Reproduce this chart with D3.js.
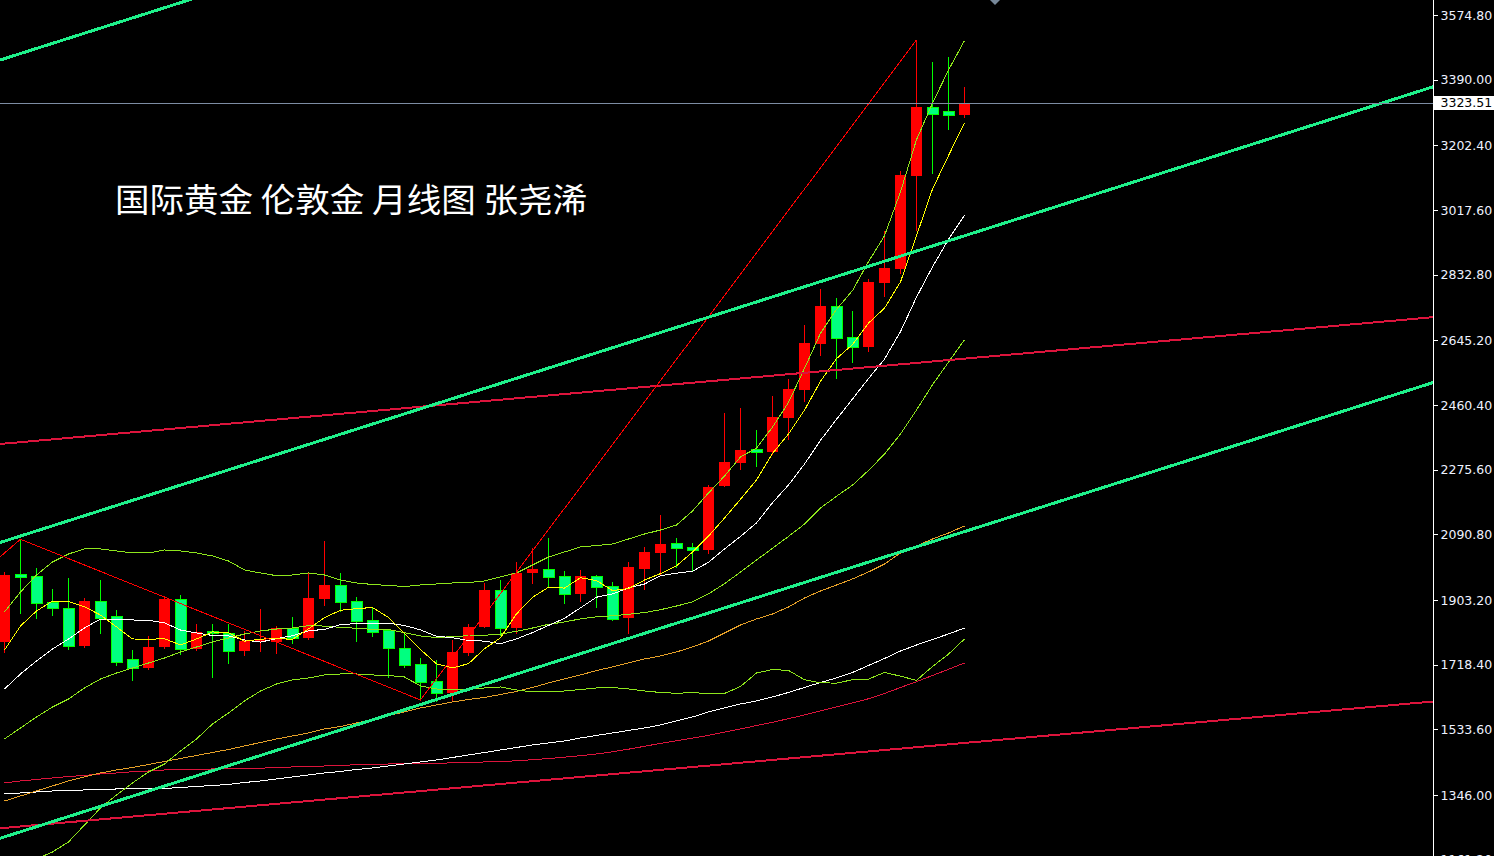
<!DOCTYPE html>
<html>
<head>
<meta charset="utf-8">
<script src="https://cdn.jsdelivr.net/npm/d3@7"></script>
<style>
  html, body { margin: 0; padding: 0; background: #000; overflow: hidden; }
  svg { display: block; }
</style>
</head>
<body>
<svg id="chart" width="1494" height="856"></svg>
<script>
// Spot gold (XAUUSD), monthly candles
const months = [
  "2020-07","2020-08","2020-09","2020-10","2020-11","2020-12",
  "2021-01","2021-02","2021-03","2021-04","2021-05","2021-06","2021-07","2021-08","2021-09","2021-10","2021-11","2021-12",
  "2022-01","2022-02","2022-03","2022-04","2022-05","2022-06","2022-07","2022-08","2022-09","2022-10","2022-11","2022-12",
  "2023-01","2023-02","2023-03","2023-04","2023-05","2023-06","2023-07","2023-08","2023-09","2023-10","2023-11","2023-12",
  "2024-01","2024-02","2024-03","2024-04","2024-05","2024-06","2024-07","2024-08","2024-09","2024-10","2024-11","2024-12",
  "2025-01","2025-02","2025-03","2025-04","2025-05","2025-06","2025-07"
];

const opens = [
  1784.1, 1976.6, 1971.7, 1898.3, 1879.5, 1771.7, 1900.3, 1857.0, 1733.8, 1708.0,
  1768.0, 1906.0, 1763.1, 1814.5, 1808.0, 1758.3, 1786.0, 1784.0, 1824.0, 1795.5,
  1906.0, 1946.0, 1900.3, 1846.1, 1817.4, 1765.2, 1719.5, 1671.7, 1638.3, 1750.9,
  1826.9, 1931.8, 1824.0, 1979.5, 1991.7, 1971.7, 1919.5, 1971.7, 1943.2, 1852.6,
  1991.7, 2038.3, 2065.2, 2053.8, 2046.1, 2230.0, 2295.4, 2333.7, 2326.8, 2424.1,
  2503.2, 2634.7, 2743.3, 2653.9, 2627.0, 2809.9, 2849.0, 3115.6, 3311.9, 3300.5,
  3288.2
];
const highs = [
  1984.1, 2076.7, 1993.8, 1933.7, 1965.2, 1908.0, 1960.4, 1874.6, 1760.3, 1800.3,
  1914.6, 1917.5, 1834.6, 1833.7, 1833.7, 1815.5, 1877.4, 1828.9, 1853.8, 1979.5,
  2071.7, 1981.2, 1912.6, 1882.4, 1819.0, 1812.6, 1738.4, 1731.7, 1788.9, 1834.6,
  1952.6, 1960.4, 2010.9, 2050.9, 2081.2, 1986.1, 1988.9, 1974.6, 1955.5, 2012.6,
  2055.2, 2146.2, 2081.2, 2067.0, 2233.0, 2436.6, 2452.7, 2389.0, 2486.7, 2533.8,
  2689.0, 2791.8, 2767.0, 2729.0, 2820.5, 2957.6, 3129.0, 3503.4, 3440.5, 3454.8,
  3369.0
];
const lows = [
  1755.5, 1865.2, 1850.9, 1860.3, 1763.1, 1769.7, 1809.7, 1717.5, 1674.6, 1706.0,
  1765.0, 1748.8, 1760.0, 1684.0, 1722.3, 1746.0, 1758.3, 1752.6, 1781.2, 1790.9,
  1888.9, 1871.7, 1786.9, 1800.4, 1682.3, 1710.9, 1617.5, 1615.5, 1615.5, 1746.0,
  1825.2, 1803.2, 1809.7, 1951.0, 1941.2, 1893.7, 1900.3, 1884.1, 1846.1, 1809.7,
  1933.8, 1974.6, 1998.4, 1986.1, 2038.3, 2228.9, 2276.6, 2286.0, 2320.3, 2363.3,
  2472.7, 2603.3, 2538.4, 2584.1, 2614.7, 2772.7, 2838.4, 2960.5, 3122.5, 3249.9,
  3283.3
];
const closes = [
  1974.7, 1969.8, 1895.6, 1881.2, 1772.6, 1900.3, 1850.9, 1727.0, 1708.0, 1769.7,
  1906.0, 1763.1, 1812.6, 1808.0, 1758.3, 1786.0, 1791.7, 1822.3, 1795.5, 1908.0,
  1946.0, 1898.3, 1844.1, 1812.6, 1765.2, 1717.5, 1669.7, 1638.3, 1755.5, 1825.2,
  1931.8, 1824.0, 1981.2, 1991.7, 1969.8, 1919.5, 1971.7, 1941.2, 1848.9, 1998.4,
  2041.2, 2063.2, 2052.6, 2046.1, 2227.0, 2298.3, 2331.7, 2326.8, 2426.7, 2505.2,
  2638.3, 2743.3, 2651.0, 2627.0, 2811.9, 2852.8, 3117.6, 3311.9, 3292.8, 3290.0,
  3323.51
];

// Moving averages and Bollinger band
const ma5 = [
  1760.4, 1828.9, 1871.8, 1900.3, 1898.8, 1883.9, 1860.1, 1826.4, 1791.8, 1791.2,
  1792.3, 1774.8, 1791.9, 1811.9, 1809.6, 1785.6, 1791.3, 1793.3, 1790.8, 1820.7,
  1852.7, 1874.0, 1878.4, 1881.8, 1853.2, 1807.5, 1761.8, 1720.7, 1709.2, 1721.2,
  1764.1, 1795.0, 1863.5, 1910.8, 1939.7, 1937.2, 1966.8, 1958.8, 1930.2, 1935.9,
  1960.3, 1978.6, 2000.9, 2040.3, 2086.0, 2137.4, 2191.1, 2246.0, 2322.1, 2377.7,
  2445.7, 2528.1, 2592.9, 2633.0, 2694.3, 2737.2, 2812.1, 2944.2, 3077.4, 3173.0,
  3267.2
];
const ma10 = [
  1648.9, 1691.8, 1728.9, 1763.2, 1791.8, 1823.2, 1848.9, 1848.9, 1846.1, 1845.0,
  1838.1, 1817.4, 1809.1, 1801.8, 1800.4, 1789.0, 1783.0, 1792.6, 1801.3, 1815.2,
  1819.2, 1832.7, 1835.8, 1836.3, 1837.0, 1830.1, 1817.9, 1799.5, 1795.5, 1787.2,
  1785.8, 1778.4, 1792.1, 1810.0, 1830.5, 1850.7, 1880.9, 1911.2, 1920.5, 1937.8,
  1948.8, 1972.7, 1979.8, 1985.3, 2011.0, 2048.9, 2084.9, 2123.4, 2181.2, 2231.9,
  2291.6, 2359.6, 2419.4, 2477.5, 2536.0, 2591.5, 2670.1, 2768.6, 2855.2, 2933.7,
  3002.2
];
const ma20 = [
  1506.1, 1537.5, 1568.9, 1597.5, 1620.3, 1651.8, 1677.5, 1694.6, 1708.9, 1723.2,
  1737.5, 1754.6, 1768.9, 1783.2, 1794.6, 1806.0, 1814.6, 1820.3, 1823.2, 1830.1,
  1828.6, 1825.1, 1822.5, 1819.1, 1818.7, 1809.5, 1800.5, 1796.0, 1798.4, 1801.2,
  1802.5, 1805.5, 1814.0, 1823.1, 1833.7, 1840.4, 1849.4, 1855.3, 1858.0, 1862.5,
  1867.3, 1875.5, 1886.0, 1897.6, 1920.7, 1949.8, 1982.9, 2017.3, 2050.9, 2084.9,
  2120.2, 2166.1, 2199.6, 2231.4, 2273.5, 2320.2, 2377.5, 2446.0, 2518.2, 2582.8,
  2646.9
];
const bbUpper = [
  1869.0, 1926.1, 1974.7, 2011.8, 2034.7, 2049.0, 2049.0, 2043.3, 2037.6, 2037.6,
  2046.1, 2043.3, 2037.6, 2029.0, 2014.7, 1989.0, 1980.4, 1972.7, 1974.7, 1980.4,
  1974.7, 1960.4, 1951.8, 1947.6, 1944.7, 1941.8, 1946.1, 1949.0, 1951.8, 1953.2,
  1957.5, 1969.0, 1980.4, 2003.3, 2026.1, 2040.4, 2054.7, 2059.0, 2063.2, 2077.5,
  2091.8, 2103.2, 2117.5, 2157.5, 2208.9, 2257.5, 2311.8, 2337.5, 2397.3, 2467.7,
  2565.2, 2665.5, 2733.6, 2787.4, 2869.9, 2944.0, 3069.5, 3218.4, 3323.2, 3417.2,
  3501.9
];
const bbLower = [
  1143.2, 1148.9, 1163.2, 1183.2, 1211.8, 1260.3, 1308.9, 1346.1, 1380.4, 1411.8,
  1434.6, 1471.8, 1506.1, 1548.9, 1580.4, 1614.7, 1643.2, 1663.2, 1674.7, 1680.4,
  1689.0, 1691.8, 1691.8, 1689.0, 1687.5, 1683.2, 1657.5, 1649.0, 1646.1, 1649.0,
  1651.8, 1654.7, 1646.1, 1640.4, 1640.4, 1643.2, 1647.5, 1651.8, 1653.2, 1649.0,
  1643.2, 1639.0, 1636.7, 1638.4, 1636.1, 1636.1, 1656.1, 1694.7, 1704.5, 1702.1,
  1675.2, 1666.7, 1665.6, 1675.4, 1677.1, 1696.4, 1685.5, 1673.6, 1713.2, 1748.4,
  1791.9
];
const ma60 = [
  1328.9, 1343.2, 1357.5, 1371.8, 1386.1, 1397.5, 1408.9, 1417.5, 1424.6, 1433.2,
  1441.8, 1450.4, 1458.9, 1467.5, 1476.1, 1486.1, 1496.1, 1506.1, 1514.7, 1523.2,
  1534.7, 1541.8, 1551.8, 1561.8, 1573.2, 1583.2, 1594.7, 1603.2, 1611.8, 1618.9,
  1624.7, 1633.2, 1641.8, 1653.2, 1666.1, 1677.5, 1689.0, 1701.8, 1711.8, 1723.2,
  1734.7, 1743.2, 1754.7, 1769.0, 1786.1, 1809.0, 1831.8, 1849.0, 1863.2, 1883.3,
  1909.0, 1929.0, 1946.1, 1963.3, 1983.3, 2006.1, 2037.6, 2057.6, 2077.6, 2094.7,
  2114.7
];
const maSlowWhite = [
  1348.9, 1351.8, 1354.6, 1357.5, 1358.9, 1360.4, 1361.8, 1363.2, 1364.6, 1364.6,
  1364.6, 1367.5, 1370.3, 1373.2, 1376.1, 1381.8, 1386.1, 1391.8, 1397.5, 1403.2,
  1408.9, 1413.2, 1418.9, 1423.2, 1428.9, 1434.6, 1440.4, 1446.1, 1453.2, 1460.4,
  1467.5, 1474.6, 1481.8, 1488.9, 1494.6, 1500.4, 1508.9, 1516.1, 1523.2, 1530.4,
  1537.5, 1546.1, 1557.5, 1568.9, 1583.2, 1594.7, 1606.1, 1614.7, 1626.1, 1639.0,
  1653.2, 1667.5, 1680.4, 1696.1, 1716.1, 1736.1, 1757.5, 1774.7, 1790.4, 1806.1,
  1823.2
];
const maSlowRed = [
  1380.4, 1386.1, 1390.4, 1394.6, 1398.9, 1401.8, 1406.1, 1408.9, 1412.6, 1414.6,
  1417.5, 1418.4, 1419.2, 1420.4, 1421.2, 1421.8, 1422.6, 1424.6, 1426.1, 1427.5,
  1428.9, 1430.6, 1432.4, 1433.8, 1434.6, 1434.6, 1434.6, 1436.1, 1438.1, 1439.2,
  1440.4, 1441.2, 1443.8, 1446.9, 1450.1, 1454.1, 1458.4, 1463.2, 1469.5, 1476.9,
  1485.2, 1493.5, 1500.9, 1508.4, 1516.4, 1525.5, 1534.7, 1544.4, 1553.8, 1564.1,
  1574.7, 1586.1, 1597.5, 1609.0, 1621.0, 1636.1, 1653.2, 1669.8, 1687.5, 1705.2,
  1723.2
];

// Hand-drawn objects: [bar index, price] anchors
const channelTop   = [[-1, 3435.6], [90, 4758.7]];
const channelMid   = [[-1, 2057.0], [90, 3380.1]];
const channelLow   = [[-1, 1211.8], [90, 2534.9]];
const redLineUpper = [[-1, 2346.1], [90, 2714.2]];
const redLineLower = [[-1, 1248.0], [90, 1616.1]];
const zigzag       = [[-1, 1998.3], [1, 2076.7], [26, 1617.5], [57, 3503.4]];

const lastPrice = 3323.51;
const tickValues = [3574.80, 3390.00, 3202.40, 3017.60, 2832.80, 2645.20, 2460.40,
                    2275.60, 2090.80, 1903.20, 1718.40, 1533.60, 1346.00, 1161.20];
const titleText = "国际黄金 伦敦金 月线图 张尧浠";

// ---------------------------------------------------------------------------
const W = 1494, H = 856, axisX = 1433;
const svg = d3.select("#chart");
svg.append("rect").attr("width", W).attr("height", H).attr("fill", "#000");

const x = d3.scaleLinear().domain([0, 60]).range([4.5, 964.5]);
const y = d3.scaleLinear().domain([1346.0, 3574.8]).range([795, 15]);

svg.append("defs").append("clipPath").attr("id", "plotClip")
  .append("rect").attr("x", 0).attr("y", 0).attr("width", axisX).attr("height", H);

const plot = svg.append("g").attr("clip-path", "url(#plotClip)");

// title
plot.append("text")
  .attr("x", 115).attr("y", 212)
  .attr("fill", "#ffffff")
  .attr("textLength", 472)
  .attr("lengthAdjust", "spacingAndGlyphs")
  .style("font-family", "'Noto Sans CJK SC', 'Noto Sans', sans-serif")
  .style("font-size", "33px")
  .text(titleText);

// candles
const bars = months.map((m, i) => ({ i, m, o: opens[i], h: highs[i], l: lows[i], c: closes[i] }));
const UP = "#ff0000", DOWN_FILL = "#00ff80", DOWN_LINE = "#00ff00";
const candleG = plot.append("g").attr("shape-rendering", "crispEdges");

candleG.selectAll("line.wick").data(bars).join("line")
  .attr("class", "wick")
  .attr("x1", d => x(d.i)).attr("x2", d => x(d.i))
  .attr("y1", d => Math.round(y(d.h))).attr("y2", d => Math.round(y(d.l)) + 1)
  .attr("stroke", d => d.c >= d.o ? UP : DOWN_LINE)
  .attr("stroke-width", 1);

candleG.selectAll("rect.body").data(bars).join("rect")
  .attr("class", "body")
  .attr("x", d => x(d.i) - 5.5)
  .attr("width", 11)
  .attr("y", d => Math.round(y(Math.max(d.o, d.c))))
  .attr("height", d => Math.max(2, Math.round(y(Math.min(d.o, d.c))) - Math.round(y(Math.max(d.o, d.c)))))
  .attr("fill", d => d.c >= d.o ? UP : DOWN_FILL)
  .attr("stroke", d => d.c >= d.o ? "none" : DOWN_LINE)
  .attr("stroke-width", 1);

// indicator lines
const seriesLine = d3.line().x((d, i) => x(i)).y(d => y(d));
const bbColor = "#8ee61c";
const indicators = [
  { vals: maSlowRed,   color: "#dc143c" },
  { vals: maSlowWhite, color: "#ffffff" },
  { vals: ma60,        color: "#e6a028" },
  { vals: bbLower,     color: bbColor },
  { vals: bbUpper,     color: bbColor },
  { vals: ma20,        color: bbColor },
  { vals: ma10,        color: "#ffffff" },
  { vals: ma5,         color: "#ffff00" }
];
const indG = plot.append("g").attr("shape-rendering", "crispEdges").attr("fill", "none");
indicators.forEach(s => {
  indG.append("path").attr("d", seriesLine(s.vals))
    .attr("stroke", s.color).attr("stroke-width", 1);
});

// drawn objects
const objLine = d3.line().x(d => x(d[0])).y(d => y(d[1]));
const objG = plot.append("g").attr("fill", "none").attr("shape-rendering", "crispEdges");
[
  { pts: redLineUpper, color: "#dc143c", w: 2 },
  { pts: redLineLower, color: "#dc143c", w: 2 },
  { pts: zigzag,       color: "#ff0000", w: 1 },
  { pts: channelTop,   color: "#1ef08a", w: 3 },
  { pts: channelMid,   color: "#1ef08a", w: 3 },
  { pts: channelLow,   color: "#1ef08a", w: 3 }
].forEach(o => {
  objG.append("path").attr("d", objLine(o.pts))
    .attr("stroke", o.color).attr("stroke-width", o.w);
});

// last price line
const yLast = Math.round(y(lastPrice)) + 0.5;
plot.append("line")
  .attr("x1", 0).attr("x2", axisX).attr("y1", yLast).attr("y2", yLast)
  .attr("stroke", "#7d8ca3").attr("stroke-width", 1);

// shift marker at top
svg.append("path")
  .attr("d", "M990,0 L1000,0 L995,5 Z")
  .attr("fill", "#778899");

// price axis
svg.append("line")
  .attr("x1", axisX + 0.5).attr("x2", axisX + 0.5).attr("y1", 0).attr("y2", H)
  .attr("stroke", "#ffffff").attr("stroke-width", 1);

const axis = d3.axisRight(y)
  .tickValues(tickValues)
  .tickFormat(d => d.toFixed(2))
  .tickSize(4).tickSizeOuter(0).tickPadding(3);

const axisG = svg.append("g").attr("transform", `translate(${axisX + 0.5},0)`).call(axis);
axisG.select(".domain").remove();
axisG.selectAll(".tick line").attr("stroke", "#ffffff").attr("shape-rendering", "crispEdges");
axisG.selectAll(".tick text")
  .attr("fill", "#eef2ff")
  .style("font-family", "'DejaVu Sans', sans-serif")
  .style("font-size", "12.5px");

// last price tag
const tag = svg.append("g");
tag.append("rect")
  .attr("x", axisX + 1).attr("y", Math.round(y(lastPrice)) - 7)
  .attr("width", W - axisX - 1).attr("height", 14)
  .attr("fill", "#ffffff");
tag.append("text")
  .attr("x", axisX + 7.5).attr("y", y(lastPrice)).attr("dy", "0.36em")
  .attr("fill", "#000000")
  .style("font-family", "'DejaVu Sans', sans-serif")
  .style("font-size", "12.5px")
  .text(lastPrice.toFixed(2));
</script>
</body>
</html>
